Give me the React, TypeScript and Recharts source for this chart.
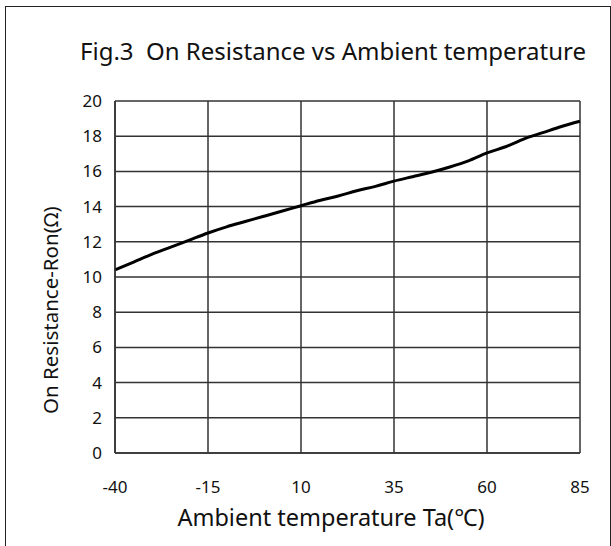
import React from 'react';
import { LineChart, Line, XAxis, YAxis, CartesianGrid } from 'recharts';

const temps = [-40, -35, -30, -25, -20, -15, -10, -5, 0, 5, 10, 15, 20, 25, 30, 35, 40, 45, 50, 55, 60, 65, 70, 75, 80, 85];
const ron = [10.4, 10.85, 11.3, 11.7, 12.1, 12.5, 12.85, 13.15, 13.45, 13.75, 14.05, 14.35, 14.6, 14.9, 15.15, 15.45, 15.7, 15.95, 16.25, 16.6, 17.05, 17.4, 17.85, 18.2, 18.55, 18.85];
const xTicks = [-40, -15, 10, 35, 60, 85];
const yTicks = [0, 2, 4, 6, 8, 10, 12, 14, 16, 18, 20];

const title = 'Fig.3  On Resistance vs Ambient temperature';
const xLabel = 'Ambient temperature Ta(℃)';
const yLabel = 'On Resistance-Ron(Ω)';

const data = temps.map((t, i) => ({ t, r: ron[i] }));

const font = '"Noto Sans", sans-serif';

export default function App() {
    return (
        <div style={{ position: 'absolute', left: 0, top: 0, width: 611, height: 546, background: '#fff', fontFamily: font, overflow: 'hidden' }}>
            <div
                style={{
                    position: 'absolute',
                    left: 5,
                    top: 6,
                    width: 604,
                    height: 560,
                    border: '1.5px solid #222',
                }}
            />
            <div style={{ position: 'absolute', left: 0, top: 0 }}>
                <LineChart width={611} height={546} data={data} margin={{ top: 101, right: 31, left: 0, bottom: 0 }}>
                    <CartesianGrid stroke="#333" strokeWidth={1.5} />
                    <XAxis
                        dataKey="t"
                        type="number"
                        domain={[-40, 85]}
                        ticks={xTicks}
                        height={93}
                        tickLine={false}
                        tickSize={0}
                        tickMargin={28}
                        axisLine={{ stroke: '#333', strokeWidth: 1.5 }}
                        tick={{ fontSize: 17, fill: '#111', fontFamily: font }}
                    />
                    <YAxis
                        type="number"
                        domain={[0, 20]}
                        ticks={yTicks}
                        width={115}
                        tickLine={false}
                        tickSize={0}
                        tickMargin={13}
                        axisLine={{ stroke: '#333', strokeWidth: 1.5 }}
                        tick={{ fontSize: 17, fill: '#111', fontFamily: font }}
                    />
                    <Line
                        type="monotone"
                        dataKey="r"
                        stroke="#000"
                        strokeWidth={3}
                        dot={false}
                        isAnimationActive={false}
                    />
                </LineChart>
            </div>
            <svg width={611} height={546} style={{ position: 'absolute', left: 0, top: 0, pointerEvents: 'none' }}>
                <text x={80} y={60} fontSize={24} fill="#111" fontFamily={font} style={{ whiteSpace: 'pre' }}>
                    {title}
                </text>
                <text x={331} y={526} textAnchor="middle" fontSize={23.5} fill="#111" fontFamily={font}>
                    {xLabel}
                </text>
                <g transform="translate(58 414) rotate(-90)">
                    <text x={0} y={0} textAnchor="start" fontSize={20.5} fill="#111" fontFamily={font}>
                        {yLabel}
                    </text>
                </g>
            </svg>
        </div>
    );
}
